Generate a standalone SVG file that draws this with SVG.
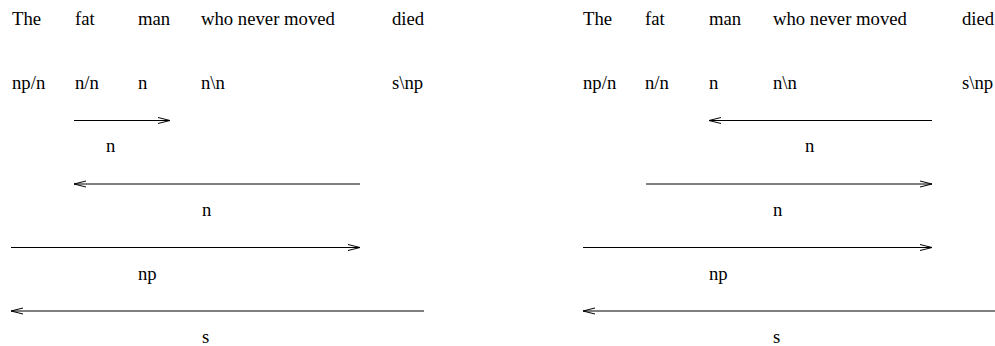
<svg xmlns="http://www.w3.org/2000/svg" width="995" height="346" viewBox="0 0 995 346">
  <style>
    text { font-family: "Liberation Serif", "Times New Roman", serif; font-size: 18.7px; fill: #000; }
    .conn { stroke: #000; stroke-width: 1; fill: none; marker-end: url(#head); }
  </style>
  <defs>
    <marker id="head" markerUnits="userSpaceOnUse" markerWidth="14" markerHeight="8" refX="12" refY="3" orient="auto" overflow="visible">
      <path d="M0,0 L12,3 L0,6" fill="none" stroke="#000" stroke-width="1"/>
    </marker>
  </defs>
  <rect width="995" height="346" fill="#fff"/>

  <!-- left derivation -->
  <g id="left-words">
    <text x="12" y="25">The</text>
    <text x="75" y="25">fat</text>
    <text x="138" y="25">man</text>
    <text x="201" y="25">who never moved</text>
    <text x="392" y="25">died</text>
  </g>
  <g id="left-categories">
    <text x="12" y="89">np/n</text>
    <text x="75" y="89">n/n</text>
    <text x="138" y="89">n</text>
    <text x="201" y="89">n\n</text>
    <text x="392" y="89">s\np</text>
  </g>
  <g id="left-results">
    <text x="106" y="152">n</text>
    <text x="202" y="216">n</text>
    <text x="138" y="280">np</text>
    <text x="202" y="343">s</text>
  </g>
  <g id="left-connectors">
    <path class="conn" d="M74,120.5 H170"/>
    <path class="conn" d="M360,184 H74"/>
    <path class="conn" d="M11,247.5 H360"/>
    <path class="conn" d="M424,311 H11"/>
  </g>

  <!-- right derivation -->
  <g id="right-words">
    <text x="583" y="25">The</text>
    <text x="645" y="25">fat</text>
    <text x="709" y="25">man</text>
    <text x="773" y="25">who never moved</text>
    <text x="962" y="25">died</text>
  </g>
  <g id="right-categories">
    <text x="583" y="89">np/n</text>
    <text x="645" y="89">n/n</text>
    <text x="709" y="89">n</text>
    <text x="773" y="89">n\n</text>
    <text x="962" y="89">s\np</text>
  </g>
  <g id="right-results">
    <text x="805" y="152">n</text>
    <text x="773" y="216">n</text>
    <text x="709" y="280">np</text>
    <text x="773" y="343">s</text>
  </g>
  <g id="right-connectors">
    <path class="conn" d="M932,120.5 H709"/>
    <path class="conn" d="M646,184 H932"/>
    <path class="conn" d="M583,247.5 H932"/>
    <path class="conn" d="M996,311 H583"/>
  </g>
</svg>
